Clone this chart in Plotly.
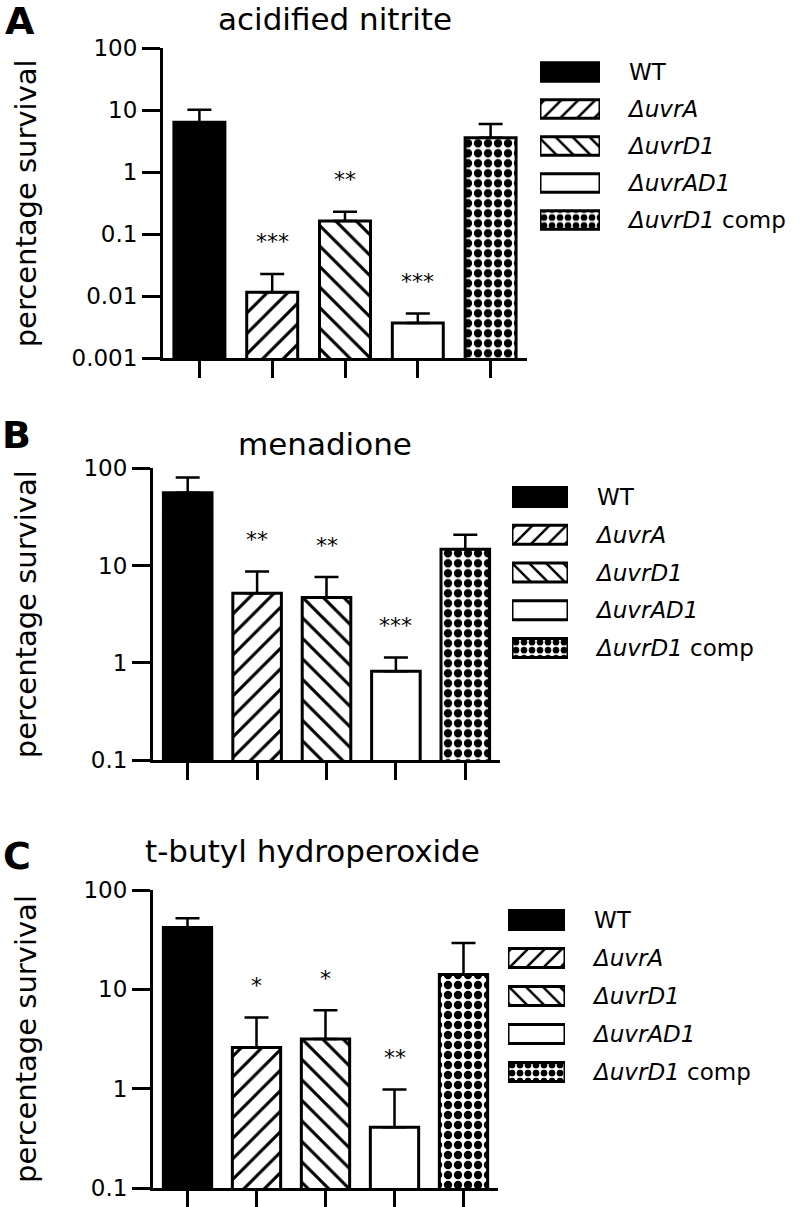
import math
import plotly.graph_objects as go

# ---------------- data ----------------
strains = ["WT", "ΔuvrA", "ΔuvrD1", "ΔuvrAD1", "ΔuvrD1 comp"]
strain_labels = ["WT", "<i>ΔuvrA</i>", "<i>ΔuvrD1</i>", "<i>ΔuvrAD1</i>", "<i>ΔuvrD1</i> comp"]

panel_letters = ["A", "B", "C"]
panel_titles = ["acidified nitrite", "menadione", "t-butyl hydroperoxide"]

nitrite_mean = [6.4, 0.0116, 0.164, 0.0037, 3.6]
nitrite_err = [3.8, 0.0113, 0.066, 0.0016, 2.4]
nitrite_sig = ["", "***", "**", "***", ""]

menadione_mean = [56, 5.2, 4.7, 0.82, 14.7]
menadione_err = [24.5, 3.5, 2.9, 0.31, 6.0]
menadione_sig = ["", "**", "**", "***", ""]

tbhp_mean = [42, 2.6, 3.16, 0.41, 14.1]
tbhp_err = [10, 2.6, 3.0, 0.57, 15.2]
tbhp_sig = ["", "*", "*", "**", ""]

ticks_a = [0.001, 0.01, 0.1, 1, 10, 100]
ticks_a_text = ["0.001", "0.01", "0.1", "1", "10", "100"]
ticks_bc = [0.1, 1, 10, 100]
ticks_bc_text = ["0.1", "1", "10", "100"]

y_title = "percentage survival"

# ---------------- styles ----------------
W, H = 800, 1207
FONT = "DejaVu Sans"
fills = ["black", "white", "white", "white", "white"]
pat_shapes = ["", "/", "\\", "", "."]
pat_size = [10, 14.5, 14.5, 10, 10]
pat_sol = [0.3, 0.21, 0.21, 0.3, 0.55]
leg_pat_size = [10, 12, 12, 10, 8]

# positions in page pixels
panels = [
    dict(mean=nitrite_mean, err=nitrite_err, sig=nitrite_sig, tv=ticks_a, tt=ticks_a_text,
         plot=(163, 527, 48.3, 358.3), leg=(540, 600, 72, 220),
         title_xy=(335, 19), letter_xy=(20, 21)),
    dict(mean=menadione_mean, err=menadione_err, sig=menadione_sig, tv=ticks_bc, tt=ticks_bc_text,
         plot=(153, 500, 468.3, 760), leg=(512, 568, 497, 648),
         title_xy=(325, 444), letter_xy=(16, 435)),
    dict(mean=tbhp_mean, err=tbhp_err, sig=tbhp_sig, tv=ticks_bc, tt=ticks_bc_text,
         plot=(153, 498, 890, 1188), leg=(508, 565, 920, 1072),
         title_xy=(312, 851), letter_xy=(17, 856)),
]


def px_x(v):
    return v / W


def px_y(v):
    return 1 - v / H


fig = go.Figure()
annotations = []
layout_axes = {}

n_cat = len(strains)
xs = list(range(n_cat))


def make_pattern(k, size):
    if not pat_shapes[k]:
        return None
    return dict(shape=pat_shapes[k], fgcolor="black", bgcolor=fills[k], fgopacity=1,
                fillmode="replace", size=size, solidity=pat_sol[k])


for i, p in enumerate(panels):
    n = i + 1
    m = i + 4
    xa, ya = ("x", "y") if n == 1 else (f"x{n}", f"y{n}")
    xl, yl = f"x{m}", f"y{m}"

    tops = [a + b for a, b in zip(p["mean"], p["err"])]

    for k in range(n_cat):
        fig.add_trace(go.Bar(
            x=[xs[k]], y=[p["mean"][k]], xaxis=xa, yaxis=ya, width=0.7, name=strains[k],
            marker=dict(color=fills[k], line=dict(color="black", width=3),
                        pattern=make_pattern(k, pat_size[k])),
            error_y=dict(type="data", symmetric=False, array=[p["err"][k]],
                         arrayminus=[0], color="black", thickness=2.5, width=12),
            showlegend=False, hoverinfo="skip",
        ))
        # legend swatch drawn as a horizontal bar on its own axes
        fig.add_trace(go.Bar(
            x=[1], y=[xs[k]], orientation="h", xaxis=xl, yaxis=yl, width=0.5, name=strains[k],
            marker=dict(color=fills[k], line=dict(color="black", width=3),
                        pattern=make_pattern(k, leg_pat_size[k])),
            showlegend=False, hoverinfo="skip",
        ))

    x0, x1, yt, yb = p["plot"]
    lo = math.log10(p["tv"][0])
    hi = math.log10(p["tv"][-1])
    xkey = "xaxis" if n == 1 else f"xaxis{n}"
    ykey = "yaxis" if n == 1 else f"yaxis{n}"
    layout_axes[xkey] = dict(
        domain=[px_x(x0), px_x(x1)], range=[-0.5, n_cat - 0.5], anchor=ya,
        showline=True, linewidth=3, linecolor="black", showgrid=False, zeroline=False,
        tickmode="array", tickvals=xs, ticks="outside", ticklen=17, tickwidth=3,
        tickcolor="black", showticklabels=False, fixedrange=True, automargin=False,
    )
    layout_axes[ykey] = dict(
        domain=[px_y(yb), px_y(yt)], type="log", range=[lo, hi], anchor=xa,
        showline=True, linewidth=3, linecolor="black", showgrid=False, zeroline=False,
        tickmode="array", tickvals=p["tv"], ticktext=p["tt"], ticks="outside",
        ticklen=18, tickwidth=3, tickcolor="black",
        tickfont=dict(family=FONT, size=23, color="black"), fixedrange=True,
        automargin=False,
    )

    lx0, lx1, r0, r4 = p["leg"]
    step = (r4 - r0) / (n_cat - 1)
    layout_axes[f"xaxis{m}"] = dict(
        domain=[px_x(lx0), px_x(lx1)], range=[0, 1], visible=False, anchor=yl,
        fixedrange=True, automargin=False,
    )
    layout_axes[f"yaxis{m}"] = dict(
        domain=[px_y(r4 + step / 2), px_y(r0 - step / 2)], range=[n_cat - 0.5, -0.5],
        anchor=xl, side="right", showline=False, showgrid=False, zeroline=False,
        tickmode="array", tickvals=xs, ticktext=strain_labels, ticks="",
        ticklabelstandoff=28, tickfont=dict(family=FONT, size=23, color="black"),
        fixedrange=True, automargin=False,
    )

    for k in range(n_cat):
        if p["sig"][k]:
            annotations.append(dict(
                x=k, y=math.log10(tops[k]), xref=xa, yref=ya, text=p["sig"][k],
                showarrow=False, yshift=32, font=dict(family=FONT, size=22, color="black"),
            ))

    tx, ty = p["title_xy"]
    annotations.append(dict(x=px_x(tx), y=px_y(ty), xref="paper", yref="paper",
                            text=panel_titles[i], showarrow=False, xanchor="center",
                            yanchor="middle", font=dict(family=FONT, size=31, color="black")))
    lx, ly = p["letter_xy"]
    annotations.append(dict(x=px_x(lx), y=px_y(ly), xref="paper", yref="paper",
                            text=f"<b>{panel_letters[i]}</b>", showarrow=False,
                            xanchor="center", yanchor="middle",
                            font=dict(family=FONT, size=38, color="black")))
    annotations.append(dict(x=px_x(26), y=0.5, xref="paper", yref=f"{ya} domain",
                            text=y_title, textangle=-90, showarrow=False,
                            xanchor="center", yanchor="middle",
                            font=dict(family=FONT, size=29, color="black")))

fig.update_layout(
    width=W, height=H, margin=dict(l=0, r=0, t=0, b=0, autoexpand=False),
    paper_bgcolor="white", plot_bgcolor="white", barmode="overlay",
    annotations=annotations, showlegend=False,
    **layout_axes,
)

fig.write_html(
    "out.html",
    config={"displayModeBar": False},
    post_script="document.body.style.margin='0';document.body.style.overflow='hidden';",
)
